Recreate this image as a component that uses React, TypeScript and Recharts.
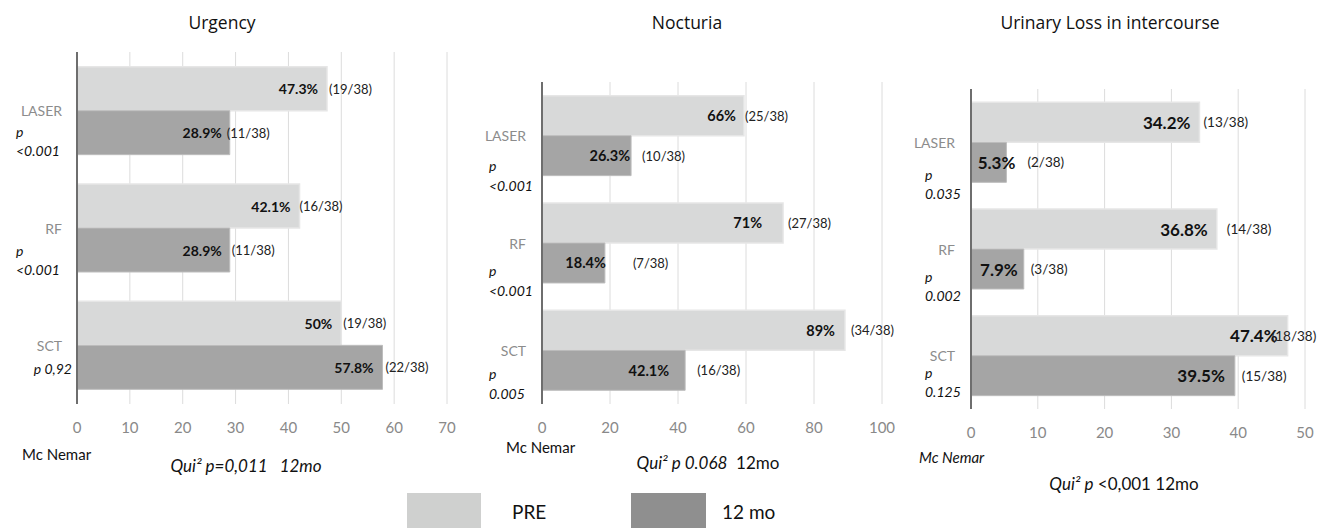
import React from 'react'
import { BarChart, Bar, XAxis, YAxis, CartesianGrid, LabelList } from 'recharts'

const groups = ['LASER', 'RF', 'SCT']
const seriesNames = ['PRE', '12 mo']

// Urgency
const urgencyPre = [47.3, 42.1, 50]
const urgencyPost = [28.9, 28.9, 57.8]
const urgencyPrePct = ['47.3%', '42.1%', '50%']
const urgencyPostPct = ['28.9%', '28.9%', '57.8%']
const urgencyPreN = ['(19/38)', '(16/38)', '(19/38)']
const urgencyPostN = ['(11/38)', '(11/38)', '(22/38)']
const urgencyP = [['p', '<0.001'], ['p', '<0.001'], ['p 0,92']]
const urgencyTicks = [0, 10, 20, 30, 40, 50, 60, 70]

// Nocturia (the LASER PRE bar is drawn shorter than its 66% label in the source)
const nocturiaPre = [59.4, 70.9, 89.1]
const nocturiaPost = [26.2, 18.5, 42.1]
const nocturiaPrePct = ['66%', '71%', '89%']
const nocturiaPostPct = ['26.3%', '18.4%', '42.1%']
const nocturiaPreN = ['(25/38)', '(27/38)', '(34/38)']
const nocturiaPostN = ['(10/38)', '(7/38)', '(16/38)']
const nocturiaP = [['p', '<0.001'], ['p', '<0.001'], ['p', '0.005']]
const nocturiaTicks = [0, 20, 40, 60, 80, 100]

// Urinary loss in intercourse
const lossPre = [34.2, 36.8, 47.4]
const lossPost = [5.3, 7.9, 39.5]
const lossPrePct = ['34.2%', '36.8%', '47.4%']
const lossPostPct = ['5.3%', '7.9%', '39.5%']
const lossPreN = ['(13/38)', '(14/38)', '(18/38)']
const lossPostN = ['(2/38)', '(3/38)', '(15/38)']
const lossP = [['p', '0.035'], ['p', '0.002'], ['p', '0.125']]
const lossTicks = [0, 10, 20, 30, 40, 50]

const PRE_FILL = '#d8d9d9'
const POST_FILL = '#a5a5a5'
const FONT = "Lato, 'Open Sans', sans-serif"
const TITLE_FONT = "'Open Sans', Lato, sans-serif"

type PanelCfg = {
  left: number
  width: number
  axisX: number
  top: number
  bottomY: number
  right: number
  max: number
  catGap: string
  nameRight: number
  pX: number
  pDy: number[]
  pGap: number
  pctSize: number
  nSize: number
  preDx: number[][]
  postDx: number[][]
}

const urgencyCfg: PanelCfg = {
  left: 0, width: 460, axisX: 77, top: 52, bottomY: 404, right: 13, max: 70, catGap: '12.5%',
  nameRight: 62, pX: 16, pDy: [21, 22, 23], pGap: 19, pctSize: 14, nSize: 13,
  preDx: [[-9, 2], [-9, 0], [-9, 2]],
  postDx: [[-8, -3], [-8, 2], [-9, 3]],
}

const nocturiaCfg: PanelCfg = {
  left: 460, width: 440, axisX: 82, top: 82, bottomY: 404, right: 18, max: 100, catGap: '12.7%',
  nameRight: 66, pX: 29, pDy: [30, 27, 23], pGap: 20, pctSize: 14.5, nSize: 13,
  preDx: [[-8, 1], [-21, 5], [-10, 6]],
  postDx: [[-1, 11], [1, 28], [-16, 12]],
}

const lossCfg: PanelCfg = {
  left: 900, width: 426, axisX: 71, top: 89, bottomY: 409, right: 21, max: 50, catGap: '12.5%',
  nameRight: 55, pX: 25, pDy: [32, 27, 17], pGap: 19, pctSize: 17, nSize: 13.5,
  preDx: [[-9, 4], [-9, 10], [-10, -16]],
  postDx: [[9, 21], [-6, 7], [-10, 7]],
}

function Panel({ cfg, pre, post, prePct, postPct, preN, postN, pLines, ticks }: any) {
  const rows = groups.map((g, i) => ({
    name: g,
    pre: pre[i],
    post: post[i],
    preLabel: `${prePct[i]}|${preN[i]}|${i}`,
    postLabel: `${postPct[i]}|${postN[i]}|${i}`,
  }))

  const renderTick = (props: any) => {
    const { y, payload } = props
    const i = groups.indexOf(payload.value)
    const lines: string[] = pLines[i] || []
    return (
      <g>
        <text x={cfg.nameRight} y={y} textAnchor="end" dominantBaseline="central" fontSize={14} fill="#8c8c8c">
          {payload.value}
        </text>
        {lines.length === 1 ? (
          <text x={cfg.axisX - 5} y={y + cfg.pDy[i]} textAnchor="end" dominantBaseline="central" fontSize={14} fontStyle="italic" fill="#111">
            {lines[0]}
          </text>
        ) : (
          lines.map((l, k) => (
            <text key={k} x={cfg.pX} y={y + cfg.pDy[i] + k * cfg.pGap} dominantBaseline="central" fontSize={14} fontStyle="italic" fill="#111">
              {l}
            </text>
          ))
        )}
      </g>
    )
  }

  const makeLabel = (shifts: number[][]) => (props: any) => {
    const { x, y, width, height, value } = props
    const [pct, n, idx] = String(value).split('|')
    const s = shifts[Number(idx)] || [-9, 2]
    const end = Number(x) + Number(width)
    const cy = Number(y) + Number(height) / 2
    return (
      <g>
        <text x={end + s[0]} y={cy} textAnchor="end" dominantBaseline="central" fontWeight={700} fontSize={cfg.pctSize} fill="#111">
          {pct}
        </text>
        <text x={end + s[1]} y={cy} dominantBaseline="central" fontSize={cfg.nSize} fill="#222">
          {n}
        </text>
      </g>
    )
  }

  return (
    <div style={{ position: 'absolute', left: cfg.left, top: 0 }}>
      <BarChart
        layout="vertical"
        width={cfg.width}
        height={528}
        data={rows}
        margin={{ top: cfg.top, right: cfg.right, bottom: 528 - cfg.bottomY - 30, left: 0 }}
        barCategoryGap={cfg.catGap}
        barGap={0}
      >
        <CartesianGrid horizontal={false} stroke="#dcdcdc" />
        <XAxis
          type="number"
          domain={[0, cfg.max]}
          ticks={ticks}
          interval={0}
          axisLine={false}
          tickLine={false}
          tickMargin={12}
          height={30}
          tick={{ fill: '#898989', fontSize: 15 }}
        />
        <YAxis
          type="category"
          dataKey="name"
          width={cfg.axisX}
          interval={0}
          axisLine={{ stroke: '#6e6e6e', strokeWidth: 2 }}
          tickLine={false}
          tick={renderTick}
        />
        <Bar dataKey="pre" fill={PRE_FILL} stroke="#e6e6e6" strokeWidth={1.5} isAnimationActive={false}>
          <LabelList dataKey="preLabel" content={makeLabel(cfg.preDx)} />
        </Bar>
        <Bar dataKey="post" fill={POST_FILL} stroke="#bdbdbd" strokeWidth={1} isAnimationActive={false}>
          <LabelList dataKey="postLabel" content={makeLabel(cfg.postDx)} />
        </Bar>
      </BarChart>
    </div>
  )
}

export default function App() {
  return (
    <div style={{ position: 'absolute', left: 0, top: 0, width: 1326, height: 528, background: '#fff', fontFamily: FONT, overflow: 'hidden' }}>
      <Panel cfg={urgencyCfg} pre={urgencyPre} post={urgencyPost} prePct={urgencyPrePct} postPct={urgencyPostPct}
        preN={urgencyPreN} postN={urgencyPostN} pLines={urgencyP} ticks={urgencyTicks} />
      <Panel cfg={nocturiaCfg} pre={nocturiaPre} post={nocturiaPost} prePct={nocturiaPrePct} postPct={nocturiaPostPct}
        preN={nocturiaPreN} postN={nocturiaPostN} pLines={nocturiaP} ticks={nocturiaTicks} />
      <Panel cfg={lossCfg} pre={lossPre} post={lossPost} prePct={lossPrePct} postPct={lossPostPct}
        preN={lossPreN} postN={lossPostN} pLines={lossP} ticks={lossTicks} />

      <svg width={1326} height={528} style={{ position: 'absolute', left: 0, top: 0, pointerEvents: 'none' }} fontFamily={FONT}>
        {/* titles */}
        <text x={222} y={22} textAnchor="middle" dominantBaseline="central" fontSize={17.5} fontFamily={TITLE_FONT} fill="#111">Urgency</text>
        <text x={687} y={22} textAnchor="middle" dominantBaseline="central" fontSize={17.5} fontFamily={TITLE_FONT} fill="#111">Nocturia</text>
        <text x={1110} y={22} textAnchor="middle" dominantBaseline="central" fontSize={17.5} fontFamily={TITLE_FONT} fill="#111">Urinary Loss in intercourse</text>

        {/* footers */}
        <text x={22} y={454} dominantBaseline="central" fontSize={15} fill="#111">Mc Nemar</text>
        <text x={246} y={465} textAnchor="middle" dominantBaseline="central" fontSize={17} fontStyle="italic" fill="#111" style={{ whiteSpace: 'pre' }}>
          {'Qui² p=0,011   12mo'}
        </text>

        <text x={506} y={447} dominantBaseline="central" fontSize={15} fill="#111">Mc Nemar</text>
        <text x={708} y={462} textAnchor="middle" dominantBaseline="central" fontSize={17} fill="#111" style={{ whiteSpace: 'pre' }}>
          <tspan fontStyle="italic">{'Qui² p 0.068'}</tspan>
          <tspan>{'  12mo'}</tspan>
        </text>

        <text x={919} y={457} dominantBaseline="central" fontSize={15} fontStyle="italic" fill="#111">Mc Nemar</text>
        <text x={1124} y={483} textAnchor="middle" dominantBaseline="central" fontSize={17} fill="#111">
          <tspan fontStyle="italic">Qui² p</tspan>
          <tspan>{' <0,001 12mo'}</tspan>
        </text>

        {/* legend */}
        <rect x={407} y={493} width={74} height={35} fill="#cfd0cf" />
        <text x={512} y={511} dominantBaseline="central" fontSize={19} fill="#111">{seriesNames[0]}</text>
        <rect x={631} y={493} width={75} height={35} fill="#8f8f8f" />
        <text x={722} y={511} dominantBaseline="central" fontSize={19} fill="#111">{seriesNames[1]}</text>
      </svg>
    </div>
  )
}
